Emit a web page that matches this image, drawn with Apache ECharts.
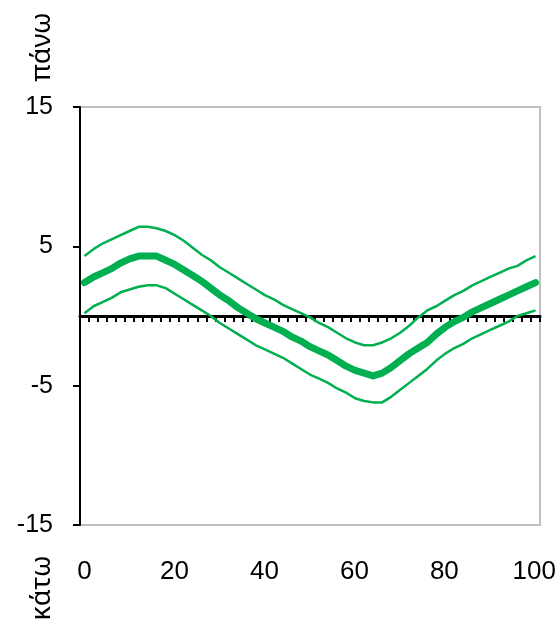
<!DOCTYPE html>
<html>
<head>
<meta charset="utf-8">
<script src="https://cdn.jsdelivr.net/npm/echarts@6/dist/echarts.min.js"></script>
<style>
  html, body { margin: 0; padding: 0; background: #fff; }
  #chart { width: 559px; height: 629px; }
</style>
</head>
<body>
<div id="chart"></div>
<script>
; (function () {

    /* ---------- data (x = 0, 2, ... 100) ---------- */
    var middle = [2.4, 2.8, 3.1, 3.4, 3.8, 4.1, 4.3, 4.3, 4.3, 4.0,
        3.7, 3.3, 2.9, 2.5, 2.0, 1.5, 1.1, 0.6, 0.2, -0.2,
        -0.5, -0.8, -1.1, -1.5, -1.8, -2.2, -2.5, -2.8, -3.2, -3.6,
        -3.9, -4.1, -4.3, -4.1, -3.7, -3.2, -2.7, -2.3, -1.9, -1.3,
        -0.8, -0.4, -0.1, 0.3, 0.6, 0.9, 1.2, 1.5, 1.8, 2.1, 2.4];
    var upper = [4.3, 4.8, 5.2, 5.5, 5.8, 6.1, 6.4, 6.4, 6.3, 6.1,
        5.8, 5.4, 4.9, 4.4, 4.0, 3.5, 3.1, 2.7, 2.3, 1.9,
        1.5, 1.2, 0.8, 0.5, 0.2, -0.1, -0.5, -0.8, -1.2, -1.6,
        -1.9, -2.1, -2.1, -1.9, -1.6, -1.2, -0.7, -0.1, 0.4, 0.7,
        1.1, 1.5, 1.8, 2.2, 2.5, 2.8, 3.1, 3.4, 3.6, 4.0, 4.3];
    var lower = [0.2, 0.7, 1.0, 1.3, 1.7, 1.9, 2.1, 2.2, 2.2, 2.0,
        1.6, 1.2, 0.8, 0.4, 0.0, -0.5, -0.9, -1.3, -1.7, -2.1,
        -2.4, -2.7, -3.0, -3.4, -3.8, -4.2, -4.5, -4.8, -5.2, -5.5,
        -5.9, -6.1, -6.2, -6.2, -5.8, -5.3, -4.8, -4.3, -3.8, -3.2,
        -2.7, -2.3, -2.0, -1.6, -1.3, -1.0, -0.7, -0.4, 0.0, 0.2, 0.4];

    var xTicks = [0, 20, 40, 60, 80, 100];
    var yTicks = [-15, -5, 5, 15];
    var topTitle = 'πάνω';
    var bottomTitle = 'κάτω';

    var categories = middle.map(function (v, i) { return String(i * 2); });

    var green = '#00b050';
    var font = '"Liberation Sans", Arial, sans-serif';
    var greekFont = '"Noto Sans", "Liberation Sans", sans-serif';

    var myChart = echarts.init(document.getElementById('chart'), null, { renderer: 'canvas' });

    var option = {
        animation: false,
        backgroundColor: '#fff',
        grid: [
            {   // plot frame
                left: 80, right: 19, top: 107, bottom: 104,
                show: true,
                borderColor: '#c0c0c0',
                borderWidth: 2,
                containLabel: false
            },
            {   // label axis, 0..100 lined up with first / last point
                left: 84.5, right: 23.5, top: 107, bottom: 104,
                containLabel: false
            }
        ],
        xAxis: [
            {
                type: 'category',
                gridIndex: 0,
                data: categories,
                boundaryGap: true,
                axisLine: {
                    onZero: true,
                    lineStyle: { color: '#000', width: 3 }
                },
                axisTick: {
                    show: true,
                    interval: 0,
                    length: 6,
                    lineStyle: { color: '#000', width: 2 }
                },
                axisLabel: { show: false },
                splitLine: { show: false }
            },
            {
                type: 'value',
                gridIndex: 1,
                min: xTicks[0],
                max: xTicks[xTicks.length - 1],
                interval: xTicks[1] - xTicks[0],
                axisLine: { show: false, onZero: false },
                axisTick: { show: false },
                splitLine: { show: false },
                axisLabel: {
                    color: '#000',
                    fontSize: 26,
                    fontFamily: font,
                    margin: 34
                }
            }
        ],
        yAxis: [
            {
                type: 'value',
                gridIndex: 0,
                min: yTicks[0],
                max: yTicks[yTicks.length - 1],
                interval: yTicks[1] - yTicks[0],
                axisLine: { show: true, onZero: false, lineStyle: { color: '#000', width: 2 } },
                axisTick: { show: true, length: 7, lineStyle: { color: '#000', width: 2 } },
                splitLine: { show: false },
                axisLabel: {
                    color: '#000',
                    fontSize: 25,
                    fontFamily: font,
                    margin: 27
                }
            },
            {
                type: 'value',
                gridIndex: 1,
                min: yTicks[0],
                max: yTicks[yTicks.length - 1],
                show: false
            }
        ],
        graphic: [
            {
                type: 'text',
                x: 42, y: 47,
                rotation: Math.PI / 2,
                style: {
                    text: topTitle,
                    fill: '#000',
                    font: '27px ' + greekFont,
                    textAlign: 'center',
                    textVerticalAlign: 'middle'
                }
            },
            {
                type: 'text',
                x: 42, y: 588,
                rotation: Math.PI / 2,
                style: {
                    text: bottomTitle,
                    fill: '#000',
                    font: '27px ' + greekFont,
                    textAlign: 'center',
                    textVerticalAlign: 'middle'
                }
            }
        ],
        series: [
            {
                name: 'upper',
                type: 'line',
                xAxisIndex: 0, yAxisIndex: 0,
                data: upper,
                symbol: 'none',
                lineStyle: { color: green, width: 2.5, join: 'round' }
            },
            {
                name: 'lower',
                type: 'line',
                xAxisIndex: 0, yAxisIndex: 0,
                data: lower,
                symbol: 'none',
                lineStyle: { color: green, width: 2.5, join: 'round' }
            },
            {
                name: 'middle',
                type: 'line',
                xAxisIndex: 0, yAxisIndex: 0,
                data: middle,
                symbol: 'none',
                lineStyle: { color: green, width: 7, cap: 'round', join: 'round' }
            }
        ]
    };

    myChart.setOption(option);
}());
</script>
</body>
</html>
